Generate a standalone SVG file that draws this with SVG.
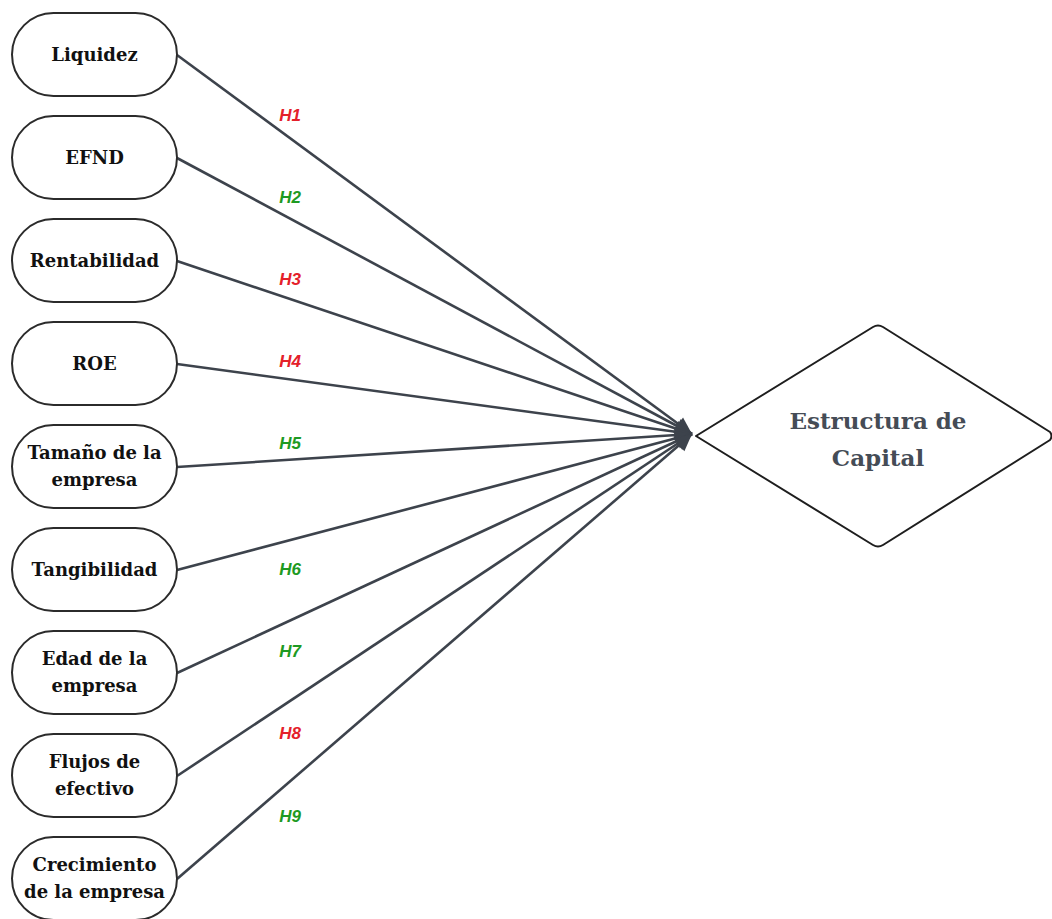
<svg xmlns="http://www.w3.org/2000/svg" width="1052" height="919" viewBox="0 0 1052 919">
<defs>
<style>
.node{fill:#fff;stroke:#2b2b2b;stroke-width:2}
.nt{font-family:"DejaVu Serif","Liberation Serif",serif;font-weight:bold;font-size:18px;fill:#111;text-anchor:middle}
.edge{stroke:#3d434c;stroke-width:2.6;fill:none}
.lbl{font-family:"Liberation Sans",Arial,sans-serif;font-weight:bold;font-style:italic;font-size:17px;text-anchor:middle}
.r{fill:#e4202a}
.g{fill:#1e9a22}
.tt{font-family:"DejaVu Serif","Liberation Serif",serif;font-weight:bold;font-size:23px;fill:#454c56;text-anchor:middle}
</style>
<marker id="ah" markerWidth="20" markerHeight="20" refX="18" refY="10" orient="auto" markerUnits="userSpaceOnUse" viewBox="0 0 20 20">
<path d="M1,2 L18,10 L1,18 z" fill="#3d434c"/>
</marker>
</defs>
<rect width="1052" height="919" fill="#fff"/>
<g id="connectors">
<line class="edge" x1="177" y1="55" x2="692" y2="434" marker-end="url(#ah)"/>
<line class="edge" x1="177" y1="158" x2="692" y2="434" marker-end="url(#ah)"/>
<line class="edge" x1="177" y1="261" x2="692" y2="434" marker-end="url(#ah)"/>
<line class="edge" x1="177" y1="364" x2="692" y2="434" marker-end="url(#ah)"/>
<line class="edge" x1="177" y1="467" x2="692" y2="434" marker-end="url(#ah)"/>
<line class="edge" x1="177" y1="570" x2="692" y2="434" marker-end="url(#ah)"/>
<line class="edge" x1="177" y1="673" x2="692" y2="434" marker-end="url(#ah)"/>
<line class="edge" x1="177" y1="776" x2="692" y2="434" marker-end="url(#ah)"/>
<line class="edge" x1="177" y1="879" x2="692" y2="434" marker-end="url(#ah)"/>
<text class="lbl r" x="290" y="121">H1</text>
<text class="lbl g" x="290" y="203">H2</text>
<text class="lbl r" x="290" y="285">H3</text>
<text class="lbl r" x="290" y="367">H4</text>
<text class="lbl g" x="290" y="449">H5</text>
<text class="lbl g" x="290" y="575">H6</text>
<text class="lbl g" x="290" y="657">H7</text>
<text class="lbl r" x="290" y="739">H8</text>
<text class="lbl g" x="290" y="822">H9</text>
</g>
<g id="n1"><rect class="node" x="12" y="13" width="165" height="83" rx="41.5"/><text class="nt" x="94.5" y="61">Liquidez</text></g>
<g id="n2"><rect class="node" x="12" y="116" width="165" height="83" rx="41.5"/><text class="nt" x="94.5" y="164">EFND</text></g>
<g id="n3"><rect class="node" x="12" y="219" width="165" height="83" rx="41.5"/><text class="nt" x="94.5" y="267">Rentabilidad</text></g>
<g id="n4"><rect class="node" x="12" y="322" width="165" height="83" rx="41.5"/><text class="nt" x="94.5" y="370">ROE</text></g>
<g id="n5"><rect class="node" x="12" y="425" width="165" height="83" rx="41.5"/><text class="nt" x="94.5" y="459">Tamaño de la</text><text class="nt" x="94.5" y="486">empresa</text></g>
<g id="n6"><rect class="node" x="12" y="528" width="165" height="83" rx="41.5"/><text class="nt" x="94.5" y="576">Tangibilidad</text></g>
<g id="n7"><rect class="node" x="12" y="631" width="165" height="83" rx="41.5"/><text class="nt" x="94.5" y="665">Edad de la</text><text class="nt" x="94.5" y="692">empresa</text></g>
<g id="n8"><rect class="node" x="12" y="734" width="165" height="83" rx="41.5"/><text class="nt" x="94.5" y="768">Flujos de</text><text class="nt" x="94.5" y="795">efectivo</text></g>
<g id="n9"><rect class="node" x="12" y="837" width="165" height="83" rx="41.5"/><text class="nt" x="94.5" y="871">Crecimiento</text><text class="nt" x="94.5" y="898">de la empresa</text></g>
<g id="target">
<path d="M696,436 L873,327 Q878,324 883,327 L1050,432 Q1053,436 1050,440 L883,545 Q878,548 873,545 Z" fill="#fff" stroke="#1e1e1e" stroke-width="2" stroke-linejoin="round"/>
<text class="tt" x="878" y="429">Estructura de</text>
<text class="tt" x="878" y="466">Capital</text>
</g>
</svg>
